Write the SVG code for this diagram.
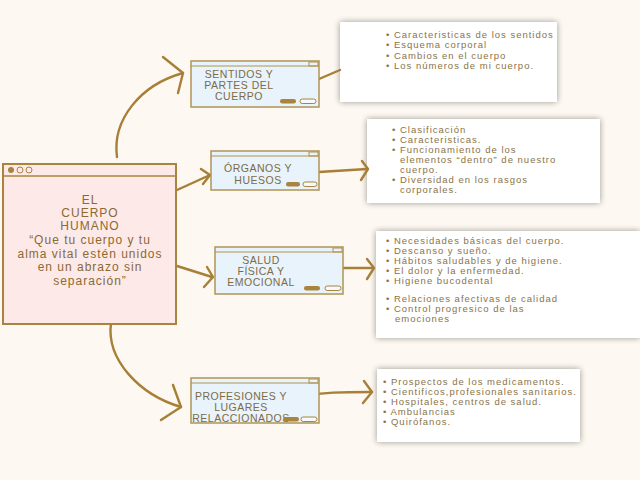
<svg xmlns="http://www.w3.org/2000/svg" width="640" height="480" viewBox="0 0 640 480">
<defs>
<style>
.bg{fill:#fdf8f1}
.main{fill:#fde9e8;stroke:#a8843e;stroke-width:2}
.node{fill:#e8f3fb;stroke:#b09455;stroke-width:1.5}
.bar{fill:none;stroke:#b09455;stroke-width:1}
.pillf{fill:#a8843e}
.pillo{fill:#f4f9fd;stroke:#a8843e;stroke-width:1}
.info{fill:#ffffff}
.conn{fill:none;stroke:#a77f37;stroke-width:2.4;stroke-linecap:round;stroke-linejoin:round}
.mt{font-family:"Liberation Sans",Arial,sans-serif;font-size:12px;letter-spacing:1px;fill:#8a6a32;text-anchor:middle}
.nt{font-family:"Liberation Sans",Arial,sans-serif;font-size:10.5px;letter-spacing:0.5px;fill:#7d6a48;text-anchor:middle}
.lt{font-family:"Liberation Sans",Arial,sans-serif;font-size:9.5px;letter-spacing:1px;fill:#8a7347}
</style>
<filter id="sh" x="-10%" y="-30%" width="120%" height="160%">
<feGaussianBlur in="SourceAlpha" stdDeviation="3"/>
<feComponentTransfer><feFuncA type="linear" slope="0.4"/></feComponentTransfer>
<feMerge><feMergeNode/><feMergeNode in="SourceGraphic"/></feMerge>
</filter>
</defs>
<rect class="bg" x="0" y="0" width="640" height="480"/>

<g id="info1">
<rect class="info" x="340" y="22" width="217" height="80" filter="url(#sh)"/>
<text class="lt" x="386" y="38">• Caracteristicas de los sentidos</text>
<text class="lt" x="386" y="48">• Esquema corporal</text>
<text class="lt" x="386" y="59">• Cambios en el cuerpo</text>
<text class="lt" x="386" y="69">• Los números de mi cuerpo.</text>
</g>
<g id="info2">
<rect class="info" x="367" y="119" width="233" height="84" filter="url(#sh)"/>
<text class="lt" x="392" y="133">• Clasificación</text>
<text class="lt" x="392" y="143">• Caracteristicas.</text>
<text class="lt" x="392" y="153">• Funcionamiento de los</text>
<text class="lt" x="400" y="163">elementos “dentro” de nuestro</text>
<text class="lt" x="400" y="173">cuerpo.</text>
<text class="lt" x="392" y="183">• Diversidad en los rasgos</text>
<text class="lt" x="400" y="193">corporales.</text>
</g>
<g id="info3">
<rect class="info" x="376" y="231" width="264" height="107" filter="url(#sh)"/>
<text class="lt" x="386" y="244">• Necesidades básicas del cuerpo.</text>
<text class="lt" x="386" y="254">• Descanso y sueño.</text>
<text class="lt" x="386" y="264">• Hábitos saludables y de higiene.</text>
<text class="lt" x="386" y="274">• El dolor y la enfermedad.</text>
<text class="lt" x="386" y="284">• Higiene bucodental</text>
<text class="lt" x="386" y="302">• Relaciones afectivas de calidad</text>
<text class="lt" x="386" y="312">• Control progresico de las</text>
<text class="lt" x="395" y="322">emociones</text>
</g>
<g id="info4">
<rect class="info" x="377" y="369" width="203" height="73" filter="url(#sh)"/>
<text class="lt" x="383" y="385">• Prospectos de los medicamentos.</text>
<text class="lt" x="383" y="395">• Cientificos,profesionales sanitarios.</text>
<text class="lt" x="383" y="405">• Hospitales, centros de salud.</text>
<text class="lt" x="383" y="415">• Ambulancias</text>
<text class="lt" x="383" y="425">• Quirófanos.</text>
</g>

<g id="connectors">
<path class="conn" d="M117 157 C112 120 140 85 183 73"/>
<path class="conn" d="M163 57 L183 73 L178 93"/>
<path class="conn" d="M319 79 L340 70"/>
<path class="conn" d="M177 190 L210 175"/>
<path class="conn" d="M201 169 L210 175 L203 184"/>
<path class="conn" d="M319 172 L367 169"/>
<path class="conn" d="M362 161 L368 169 L361 180"/>
<path class="conn" d="M177 266 L212 277"/>
<path class="conn" d="M207 267 L213 277 L204 287"/>
<path class="conn" d="M343 268 L373 268"/>
<path class="conn" d="M367 259 L374 268 L367 279"/>
<path class="conn" d="M111 323 C106 360 140 395 181 407"/>
<path class="conn" d="M173 385 L181 407 L161 420"/>
<path class="conn" d="M300 397 C320 392 345 392 372 392"/>
<path class="conn" d="M364 381 L372 392 L363 403"/>
</g>

<g id="main">
<rect class="main" x="3" y="164" width="173" height="160"/>
<line x1="3" y1="176" x2="176" y2="176" stroke="#a8843e" stroke-width="1.5"/>
<circle cx="11" cy="170" r="3" fill="#a8843e"/>
<circle cx="20" cy="170" r="3" fill="none" stroke="#a8843e" stroke-width="1"/>
<circle cx="29" cy="170" r="3" fill="none" stroke="#a8843e" stroke-width="1"/>
<text class="mt" x="90" y="204">EL</text>
<text class="mt" x="90" y="217">CUERPO</text>
<text class="mt" x="90" y="230">HUMANO</text>
<text class="mt" x="90" y="244">“Que tu cuerpo y tu</text>
<text class="mt" x="90" y="258">alma vital estén unidos</text>
<text class="mt" x="90" y="271">en un abrazo sin</text>
<text class="mt" x="90" y="285">separación”</text>
</g>

<g id="n1">
<rect class="node" x="191" y="61" width="128" height="46"/>
<line class="bar" x1="191" y1="66" x2="319" y2="66"/>
<rect class="bar" x="309" y="62" width="9" height="4"/>
<text class="nt" x="239" y="78">SENTIDOS Y</text>
<text class="nt" x="239" y="89">PARTES DEL</text>
<text class="nt" x="239" y="100">CUERPO</text>
<rect class="pillf" x="280" y="99" width="16" height="4.5" rx="2.2"/>
<rect class="pillo" x="300" y="99" width="16" height="4.5" rx="2.2"/>
</g>
<g id="n2">
<rect class="node" x="211" y="151" width="108" height="39"/>
<line class="bar" x1="211" y1="156" x2="319" y2="156"/>
<rect class="bar" x="309" y="152" width="9" height="4"/>
<text class="nt" x="258" y="172">ÓRGANOS Y</text>
<text class="nt" x="258" y="184">HUESOS</text>
<rect class="pillf" x="286" y="182" width="14" height="4.5" rx="2.2"/>
<rect class="pillo" x="303" y="182" width="14" height="4.5" rx="2.2"/>
</g>
<g id="n3">
<rect class="node" x="215" y="247" width="128" height="47"/>
<line class="bar" x1="215" y1="252" x2="343" y2="252"/>
<rect class="bar" x="333" y="248" width="9" height="4"/>
<text class="nt" x="261" y="264">SALUD</text>
<text class="nt" x="261" y="275">FÍSICA Y</text>
<text class="nt" x="261" y="286">EMOCIONAL</text>
<rect class="pillf" x="304" y="286" width="16" height="4.5" rx="2.2"/>
<rect class="pillo" x="325" y="286" width="16" height="4.5" rx="2.2"/>
</g>
<g id="n4">
<rect class="node" x="191" y="378" width="128" height="45"/>
<line class="bar" x1="191" y1="383" x2="319" y2="383"/>
<rect class="bar" x="309" y="379" width="9" height="4"/>
<text class="nt" x="241" y="400">PROFESIONES Y</text>
<text class="nt" x="241" y="411">LUGARES</text>
<text class="nt" x="241" y="422">RELACCIONADOS</text>
<rect class="pillf" x="283" y="417" width="16" height="4.5" rx="2.2"/>
<rect class="pillo" x="301" y="417" width="16" height="4.5" rx="2.2"/>
</g>
</svg>
